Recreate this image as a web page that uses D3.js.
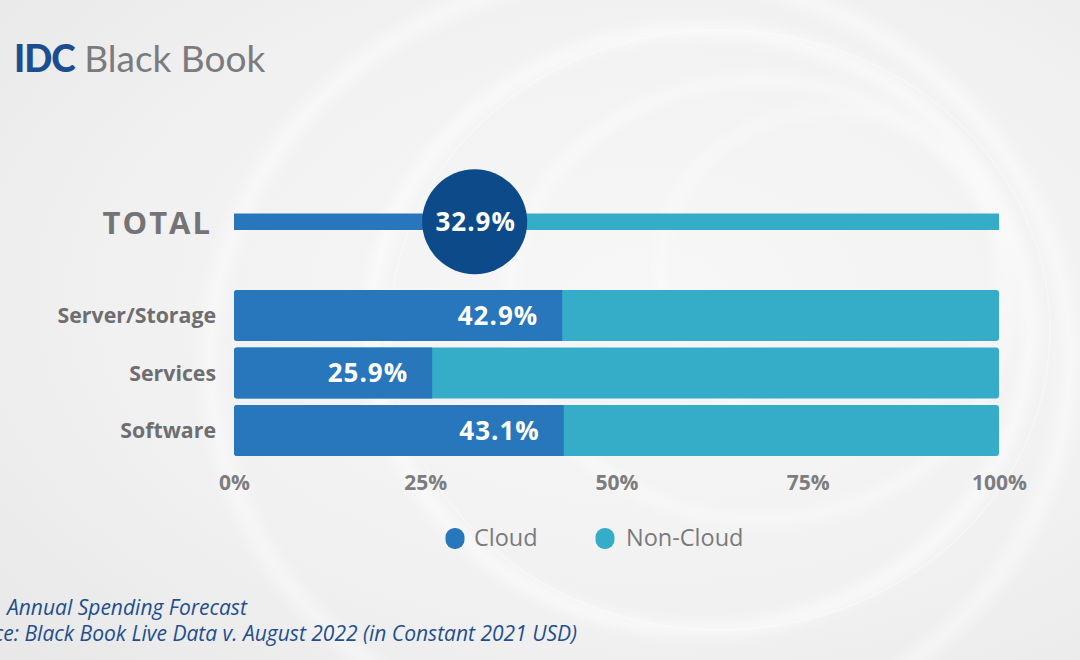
<!DOCTYPE html>
<html><head><meta charset="utf-8">
<script src="https://cdn.jsdelivr.net/npm/d3@7"></script>
<style>html,body{margin:0;padding:0;overflow:hidden;background:#f1f1f1}</style>
</head><body>
<script>
const categories = ["Server/Storage", "Services", "Software"];
const cloudValues = [42.9, 25.9, 43.1];
const totalLabel = "TOTAL";
const totalCloud = 32.9;
const tickValues = [0, 25, 50, 75, 100];
const seriesNames = ["Cloud", "Non-Cloud"];
const footerLines = ["Annual Spending Forecast", "Source: Black Book Live Data v. August 2022 (in Constant 2021 USD)"];

const W = 1080, H = 660;
const C_CLOUD = "#2876bb", C_NON = "#35acc8", C_CIRCLE = "#0d4a89";
const svg = d3.select("body").append("svg").attr("width", W).attr("height", H);

// background
const defs = svg.append("defs");
const rg = defs.append("radialGradient").attr("id","bg").attr("cx","0.6").attr("cy","0.45").attr("r","0.8");
rg.append("stop").attr("offset","0").attr("stop-color","#f7f7f8");
rg.append("stop").attr("offset","0.6").attr("stop-color","#f1f1f2");
rg.append("stop").attr("offset","1").attr("stop-color","#e8e8e9");
defs.append("filter").attr("id","blur").append("feGaussianBlur").attr("stdDeviation",6);
svg.append("rect").attr("width",W).attr("height",H).attr("fill","url(#bg)");
const swirl = svg.append("g").attr("fill","none").attr("stroke","#ffffff").attr("filter","url(#blur)");
[[700,330,330,300,0.55,14],[760,300,250,220,0.45,10],[640,360,430,390,0.4,18],[830,270,170,160,0.4,8]].forEach(a=>{
  swirl.append("ellipse").attr("cx",a[0]).attr("cy",a[1]).attr("rx",a[2]).attr("ry",a[3])
    .attr("stroke-opacity",a[4]).attr("stroke-width",a[5]);
});
svg.append("ellipse").attr("cx",720).attr("cy",330).attr("rx",330).attr("ry",300).attr("fill","none")
  .attr("stroke","#fff").attr("stroke-opacity",0.35).attr("stroke-width",1.5);

// title
const title = svg.append("text").attr("x",14).attr("y",72).style("font-family","Lato, 'Open Sans', sans-serif").style("font-size","37px");
title.append("tspan").text("IDC").attr("fill","#1b4e91").style("font-weight","900").style("letter-spacing","-1px");
title.append("tspan").text(" Black Book").attr("fill","#7b7b7d").style("font-weight","400");

const x = d3.scaleLinear().domain([0,100]).range([234,999]);
const y = d3.scaleBand().domain(categories).range([286.75,459.25]).paddingInner(0.113).paddingOuter(0.0565);

const font = "'Open Sans', Lato, sans-serif";

// TOTAL row
const totalY = 213.5, totalH = 16.5;
svg.append("rect").attr("x",x(0)).attr("y",totalY).attr("width",x(totalCloud)-x(0)).attr("height",totalH).attr("fill",C_CLOUD);
svg.append("rect").attr("x",x(totalCloud)).attr("y",totalY).attr("width",x(100)-x(totalCloud)).attr("height",totalH).attr("fill",C_NON);
const cx = x(totalCloud) - 11;
svg.append("circle").attr("cx",cx).attr("cy",totalY+totalH/2).attr("r",52.5).attr("fill",C_CIRCLE);
svg.append("text").attr("x",cx+1).attr("y",totalY+totalH/2+9).attr("text-anchor","middle")
  .style("font-family",font).style("font-weight","700").style("font-size","26px").style("letter-spacing","1px").attr("fill","#fff").text(totalCloud.toFixed(1)+"%");
svg.append("text").attr("x",212).attr("y",totalY+totalH/2+12).attr("text-anchor","end")
  .style("font-family",font).style("font-weight","700").style("font-size","31px").style("letter-spacing","2px").attr("fill","#747476").text(totalLabel);

// bars
const rows = categories.map((c,i)=>({c, v: cloudValues[i]}));
const g = svg.append("g");
rows.forEach(d=>{
  const yy = y(d.c), bh = y.bandwidth();
  g.append("rect").attr("x",x(0)).attr("y",yy).attr("width",x(100)-x(0)).attr("height",bh).attr("rx",3).attr("fill",C_NON);
  g.append("path").attr("d",`M${x(d.v)},${yy}H${x(0)+3}Q${x(0)},${yy} ${x(0)},${yy+3}V${yy+bh-3}Q${x(0)},${yy+bh} ${x(0)+3},${yy+bh}H${x(d.v)}Z`).attr("fill",C_CLOUD);
  g.append("text").attr("x",x(d.v)-24).attr("y",yy+bh/2+9).attr("text-anchor","end")
    .style("font-family",font).style("font-weight","700").style("font-size","26px").style("letter-spacing","1px").attr("fill","#fff").text(d.v.toFixed(1)+"%");
  g.append("text").attr("x",216).attr("y",yy+bh/2+7.5).attr("text-anchor","end")
    .style("font-family",font).style("font-weight","700").style("font-size","21.3px").attr("fill","#6e6e70").text(d.c);
});

// axis
const ax = svg.append("g").attr("transform","translate(0,470)")
  .call(d3.axisBottom(x).tickValues(tickValues).tickFormat(d=>d+"%").tickSize(0).tickPadding(0));
ax.select(".domain").remove();
ax.selectAll("text").attr("dy","20px").style("font-family",font).style("font-weight","700").style("font-size","21px").attr("fill","#7d7d7f");

// legend
const leg = svg.append("g");
const legItems = [{n:seriesNames[0], c:C_CLOUD, x:455, tx:474}, {n:seriesNames[1], c:C_NON, x:605, tx:626}];
legItems.forEach(d=>{
  leg.append("rect").attr("x",d.x-9.5).attr("y",528).attr("width",19).attr("height",21).attr("rx",9).attr("fill",d.c);
  leg.append("text").attr("x",d.tx).attr("y",545.5).style("font-family",font).style("font-size","23.5px").attr("fill","#7a7a7c").text(d.n);
});

// footer
const foot = svg.append("g").style("font-family",font).style("font-style","italic").style("font-size","21px").attr("fill","#1f4f8e");
foot.append("text").attr("x",7).attr("y",615).text(footerLines[0]);
foot.append("text").attr("x",577).attr("y",641).attr("text-anchor","end").text(footerLines[1]);
</script>
</body></html>
